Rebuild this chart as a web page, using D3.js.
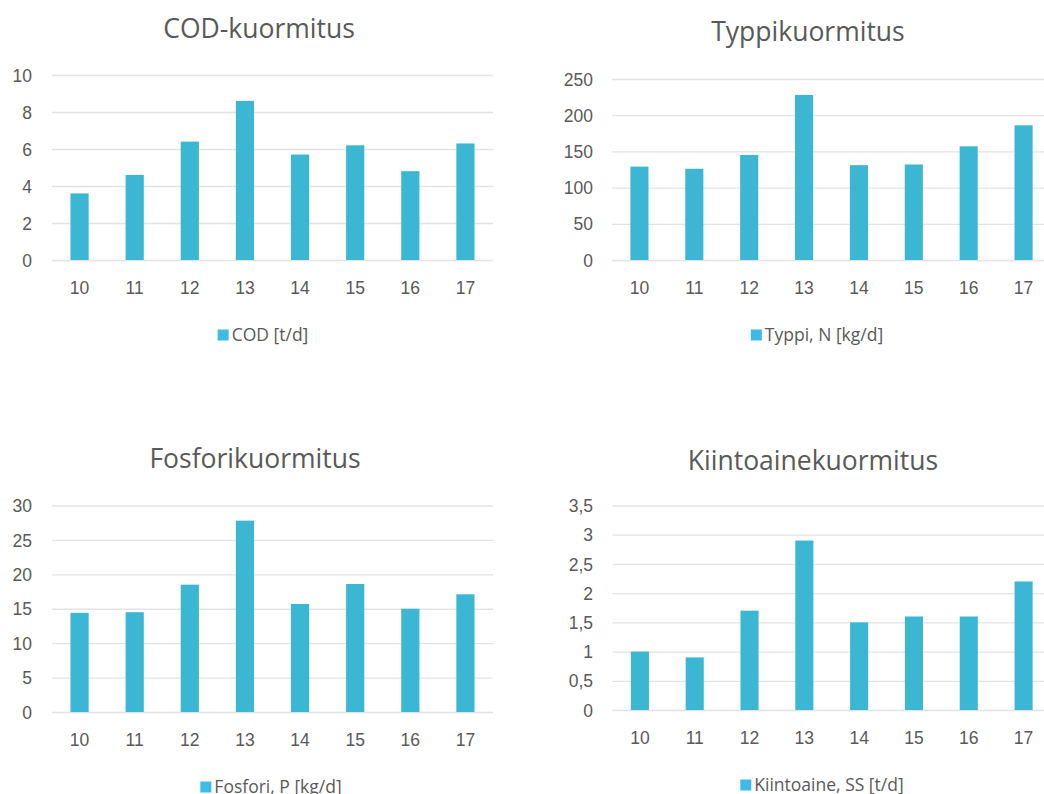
<!DOCTYPE html>
<html>
<head>
<meta charset="utf-8">
<script src="https://cdn.jsdelivr.net/npm/d3@7"></script>
<style>
  html, body { margin: 0; padding: 0; background: #ffffff; }
  svg { display: block; font-family: "Open Sans", "Noto Sans", sans-serif; }
</style>
</head>
<body>
<svg id="chart" width="1044" height="794"></svg>
<script>
// Weekly loads, weeks 10–17
const weeks = ["10", "11", "12", "13", "14", "15", "16", "17"];

const codValues = [3.6, 4.6, 6.4, 8.6, 5.7, 6.2, 4.8, 6.3];
const nitrogenValues = [129, 126, 145, 228, 131, 132, 157, 186];
const phosphorusValues = [14.4, 14.5, 18.5, 27.8, 15.7, 18.6, 15.0, 17.1];
const solidsValues = [1.0, 0.9, 1.7, 2.9, 1.5, 1.6, 1.6, 2.2];

const codTicks = [0, 2, 4, 6, 8, 10];
const nitrogenTicks = [0, 50, 100, 150, 200, 250];
const phosphorusTicks = [0, 5, 10, 15, 20, 25, 30];
const solidsTicks = [0, 0.5, 1, 1.5, 2, 2.5, 3, 3.5];

const titles = ["COD-kuormitus", "Typpikuormitus", "Fosforikuormitus", "Kiintoainekuormitus"];
const seriesNames = ["COD [t/d]", "Typpi, N [kg/d]", "Fosfori, P [kg/d]", "Kiintoaine, SS [t/d]"];

const fiLocale = d3.formatLocale({ decimal: ",", thousands: "\u00a0", grouping: [3], currency: ["", " €"] });
const fmt = fiLocale.format("~g");

const svg = d3.select("#chart");
const textColor = "#595959";
const barColor = "#3bb7d4";
const legendColor = "#3dbbe6";
const gridColor = "#e3e3e3";
const tickFont = 17.5;
const titleFont = 26.5;
const legendFont = 17.5;

// Panel layouts
const panels = [
  { values: codValues, ticks: codTicks, title: titles[0], name: seriesNames[0],
    x0: 52, x1: 493, yTop: 75, yBot: 260, titleX: 259, titleY: 38, labelRight: 32, xLabelY: 294, legendX: 263, legendY: 335 },
  { values: nitrogenValues, ticks: nitrogenTicks, title: titles[1], name: seriesNames[1],
    x0: 612, x1: 1051, yTop: 79, yBot: 260, titleX: 808, titleY: 41, labelRight: 593, xLabelY: 294, legendX: 817, legendY: 335 },
  { values: phosphorusValues, ticks: phosphorusTicks, title: titles[2], name: seriesNames[2],
    x0: 52, x1: 493, yTop: 505.5, yBot: 712, titleX: 255, titleY: 468, labelRight: 32, xLabelY: 746, legendX: 271, legendY: 787 },
  { values: solidsValues, ticks: solidsTicks, title: titles[3], name: seriesNames[3],
    x0: 612.5, x1: 1051, yTop: 505.5, yBot: 710, titleX: 813, titleY: 470, labelRight: 593, xLabelY: 744, legendX: 822, legendY: 785 }
];

panels.forEach(p => {
  const g = svg.append("g");
  const x = d3.scaleBand().domain(weeks).range([p.x0, p.x1]).paddingInner(0.67).paddingOuter(0.335);
  const y = d3.scaleLinear().domain([0, d3.max(p.ticks)]).range([p.yBot, p.yTop]);

  // gridlines and value labels
  const yAxis = d3.axisLeft(y).tickValues(p.ticks).tickFormat(fmt).tickSize(-(p.x1 - p.x0)).tickPadding(0);
  const ya = g.append("g").attr("transform", `translate(${p.x0},0)`).call(yAxis);
  ya.select(".domain").remove();
  ya.selectAll(".tick line").attr("stroke", gridColor).attr("stroke-width", 1.3);
  ya.selectAll(".tick text")
    .attr("x", p.labelRight - p.x0)
    .attr("fill", textColor)
    .attr("font-size", tickFont)
    .attr("text-anchor", "end")
    .attr("dy", "0.35em");

  // bars
  g.append("g").selectAll("rect").data(p.values).join("rect")
    .attr("x", (d, i) => x(weeks[i]))
    .attr("width", x.bandwidth())
    .attr("y", d => y(d))
    .attr("height", d => y(0) - y(d))
    .attr("fill", barColor);

  // category labels
  const xAxis = d3.axisBottom(x).tickSize(0).tickPadding(0);
  const xa = g.append("g").attr("transform", `translate(0,${p.yBot})`).call(xAxis);
  xa.select(".domain").remove();
  xa.selectAll(".tick text")
    .attr("y", p.xLabelY - p.yBot)
    .attr("dy", 0)
    .attr("fill", textColor)
    .attr("font-size", tickFont);

  // title
  g.append("text")
    .attr("x", p.titleX).attr("y", p.titleY)
    .attr("text-anchor", "middle")
    .attr("fill", textColor)
    .attr("font-size", titleFont)
    .text(p.title);

  // legend
  const lg = g.append("g");
  const lt = lg.append("text")
    .attr("y", p.legendY + 6)
    .attr("fill", textColor)
    .attr("font-size", legendFont)
    .text(p.name);
  const tw = lt.node().getComputedTextLength();
  const total = 11 + 3 + tw;
  const left = p.legendX - total / 2;
  lg.append("rect")
    .attr("x", left).attr("y", p.legendY - 5.5)
    .attr("width", 11).attr("height", 11)
    .attr("fill", legendColor);
  lt.attr("x", left + 14);
});
</script>
</body>
</html>
